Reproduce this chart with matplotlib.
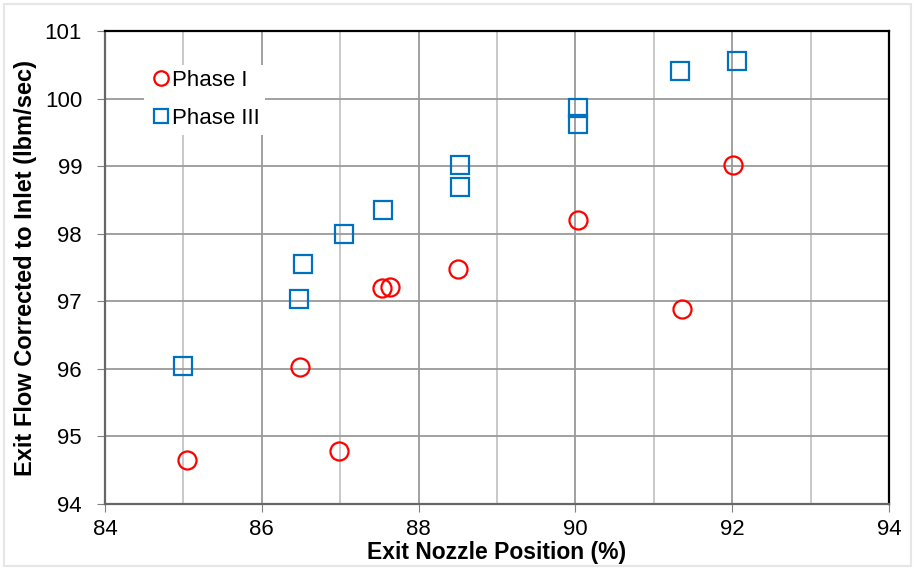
import numpy as np
import matplotlib.pyplot as plt
from matplotlib.patches import Rectangle

plt.rcParams['font.family'] = ['Liberation Sans', 'DejaVu Sans']

# Phase I data
x1 = [85.04, 86.49, 86.98, 87.53, 87.63, 88.50, 90.03, 91.36, 92.01]
y1 = [94.65, 96.03, 94.79, 97.20, 97.21, 97.48, 98.21, 96.89, 99.02]
# Phase III data
x3 = [84.99, 86.48, 86.52, 87.05, 87.54, 88.53, 88.53, 90.03, 90.03, 91.33, 92.06]
y3 = [96.04, 97.04, 97.55, 98.00, 98.35, 99.02, 98.69, 99.86, 99.62, 100.41, 100.56]

fig = plt.figure(figsize=(9.15, 5.68), dpi=100)
fig.patches.append(Rectangle((0.004, 0.003), 0.992, 0.99, transform=fig.transFigure,
                             fill=False, edgecolor='#e6e6e6', lw=1.5))
ax = fig.add_axes([105/915, 1-504/568, 784/915, 473/568])

ax.plot(x1, y1, 'o', ls='none', ms=13, mfc='none', mec='#FF0000', mew=1.6, label='Phase I', zorder=3)
ax.plot(x3, y3, 's', ls='none', ms=13, mfc='none', mec='#0070C0', mew=1.6, label='Phase III', zorder=3)

ax.set_xlim(84, 94)
ax.set_ylim(94, 101)
ax.set_xticks(np.arange(84, 95, 2))
ax.set_xticks(np.arange(85, 94, 2), minor=True)
ax.set_yticks(np.arange(94, 102, 1))
ax.grid(which='major', color='#9a9a9a', lw=1.3, zorder=0)
ax.grid(which='minor', axis='x', color='#c4c4c4', lw=1.3, zorder=0)
ax.tick_params(which='major', direction='out', length=6, color='#808080', labelsize=16)
ax.tick_params(axis='y', pad=10.5)
ax.tick_params(axis='x', pad=5)
ax.tick_params(which='minor', length=0)

for s in ['top', 'right']:
    ax.spines[s].set_color('black')
    ax.spines[s].set_linewidth(1.6)
for s in ['left', 'bottom']:
    ax.spines[s].set_color('#666666')
    ax.spines[s].set_linewidth(1.6)

ax.set_xlabel('Exit Nozzle Position (%)', fontsize=16.5, fontweight='bold')
ax.set_ylabel('Exit Flow Corrected to Inlet (lbm/sec)', fontsize=17, fontweight='bold')
ax.xaxis.set_label_coords(0.5, -0.079)
ax.yaxis.set_label_coords(-0.087, 0.5)

leg = ax.legend(loc='upper left', bbox_to_anchor=(0.05, 0.929), frameon=True, fontsize=16,
                handletextpad=0.0, handlelength=1.0, borderpad=0.25, labelspacing=0.77,
                markerscale=0.8, borderaxespad=0)
leg.get_frame().set_edgecolor('none')
leg.get_frame().set_facecolor('white')
leg.get_frame().set_alpha(1)
leg.get_frame().set_boxstyle('square', pad=0)

fig.savefig('out.png', dpi=100)
